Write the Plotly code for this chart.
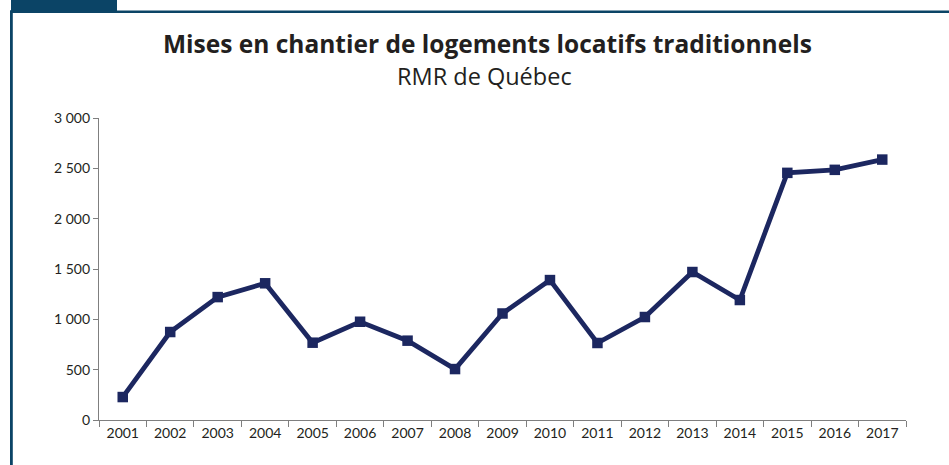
import plotly.graph_objects as go

years = ["2001", "2002", "2003", "2004", "2005", "2006", "2007", "2008", "2009",
         "2010", "2011", "2012", "2013", "2014", "2015", "2016", "2017"]
starts = [228, 874, 1221, 1358, 768, 976, 788, 506, 1058,
          1390, 765, 1023, 1470, 1192, 2455, 2485, 2587]
ytick_vals = [0, 500, 1000, 1500, 2000, 2500, 3000]
ytick_text = ["0", "500", "1 000", "1 500", "2 000", "2 500", "3 000"]

W, H = 949, 465
L, R, T, B = 99, 43, 118, 45
pw, ph = W - L - R, H - T - B

def px(x):
    return (x - L) / pw

def py(y):
    return 1 - (y - T) / ph

frame = "#0b4466"
navy = "#1c2760"
txt = "#231f20"

fig = go.Figure()
fig.add_trace(go.Scatter(
    x=years, y=starts, mode="lines+markers",
    line=dict(color=navy, width=4.8),
    marker=dict(symbol="square", size=10.5, color=navy),
    showlegend=False, hoverinfo="x+y",
))

shapes = [
    dict(type="rect", xref="paper", yref="paper", x0=px(11), x1=px(117), y0=py(-2), y1=py(11),
         fillcolor=frame, line=dict(width=0), layer="above"),
    dict(type="rect", xref="paper", yref="paper", x0=px(10), x1=px(W + 2), y0=py(10.5), y1=py(13),
         fillcolor=frame, line=dict(width=0), layer="above"),
    dict(type="rect", xref="paper", yref="paper", x0=px(10), x1=px(12.8), y0=py(10.5), y1=py(H + 2),
         fillcolor=frame, line=dict(width=0), layer="above"),
]

fig.update_layout(
    width=W, height=H,
    margin=dict(l=L, r=R, t=T, b=B),
    paper_bgcolor="white", plot_bgcolor="white",
    font=dict(family="Lato, sans-serif", color=txt),
    shapes=shapes,
    annotations=[
        dict(text="<b>Mises en chantier de logements locatifs traditionnels</b>",
             xref="paper", yref="paper", x=px(487.5), y=py(43.5), xanchor="center", yanchor="middle",
             showarrow=False, font=dict(family="Open Sans, sans-serif", size=24.5, color=txt)),
        dict(text="RMR de Québec",
             xref="paper", yref="paper", x=px(484), y=py(76), xanchor="center", yanchor="middle",
             showarrow=False, font=dict(family="Open Sans, sans-serif", size=23.5, color=txt)),
    ],
    xaxis=dict(
        type="category", range=[-0.5, 16.5], tickson="boundaries",
        showline=True, linecolor="#7f7f7f", linewidth=1.2,
        ticks="outside", ticklen=6, tickcolor="#7f7f7f", tickwidth=1.2,
        showgrid=False, zeroline=False,
        tickfont=dict(size=14, color=txt),
    ),
    yaxis=dict(
        range=[0, 3000], tickvals=ytick_vals, ticktext=ytick_text,
        showline=True, linecolor="#7f7f7f", linewidth=1.2,
        ticks="outside", ticklen=5, tickcolor="#7f7f7f", tickwidth=1.2,
        showgrid=False, zeroline=False,
        tickfont=dict(size=14, color=txt),
    ),
)

fig.write_html(
    "out.html",
    config={"displayModeBar": False},
    post_script="document.body.style.margin='0';document.body.style.overflow='hidden';",
)
